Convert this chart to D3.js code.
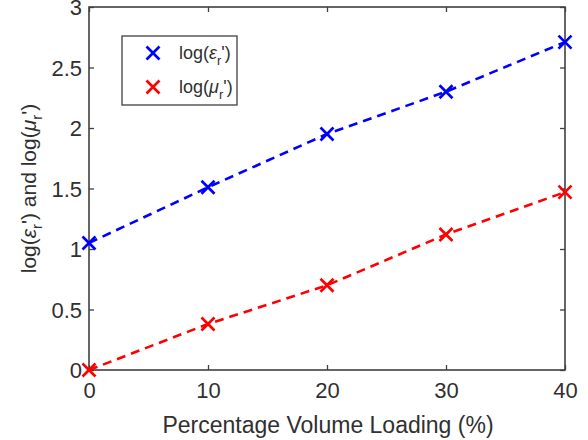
<!DOCTYPE html>
<html>
<head>
<meta charset="utf-8">
<script src="https://cdn.jsdelivr.net/npm/d3@7"></script>
<style>
  html, body { margin: 0; padding: 0; background: #fff; }
  svg { display: block; font-family: "Liberation Sans", Arial, Helvetica, sans-serif; }
</style>
</head>
<body>
<svg id="chart" width="588" height="440"></svg>
<script>
// Volume loading (%) and measured log values
const loading = [0, 10, 20, 30, 40];
const logEps = [1.05, 1.51, 1.95, 2.30, 2.71];
const logMu = [0.00, 0.38, 0.70, 1.12, 1.47];

const xTicks = [0, 10, 20, 30, 40];
const yTicks = [0, 0.5, 1, 1.5, 2, 2.5, 3];

const series = [
  { name: "eps", values: logEps, color: "#0000ff", greek: "\u03B5" },
  { name: "mu", values: logMu, color: "#ff0000", greek: "\u03BC" }
];

const svg = d3.select("#chart");
const box = { left: 89, right: 565, top: 7, bottom: 370 };

const x = d3.scaleLinear().domain([0, 40]).range([box.left, box.right]);
const y = d3.scaleLinear().domain([0, 3]).range([box.bottom, box.top]);

const axisColor = "#404040";
const textColor = "#303030";
const tickLen = 5;

// Axes with inward ticks
const gx = svg.append("g").attr("transform", `translate(0,${box.bottom})`)
  .call(d3.axisBottom(x).tickValues(xTicks).tickSizeInner(-tickLen).tickSizeOuter(0).tickPadding(12).tickFormat(d3.format("d")));
const gy = svg.append("g").attr("transform", `translate(${box.left},0)`)
  .call(d3.axisLeft(y).tickValues(yTicks).tickSizeInner(-tickLen).tickSizeOuter(0).tickPadding(7).tickFormat(d => d3.format("")(d)));
const gxTop = svg.append("g").attr("transform", `translate(0,${box.top})`)
  .call(d3.axisTop(x).tickValues(xTicks).tickSizeInner(-tickLen).tickSizeOuter(0).tickFormat(""));
const gyRight = svg.append("g").attr("transform", `translate(${box.right},0)`)
  .call(d3.axisRight(y).tickValues(yTicks).tickSizeInner(-tickLen).tickSizeOuter(0).tickFormat(""));

[gx, gy, gxTop, gyRight].forEach(g => {
  g.select(".domain").remove();
  g.selectAll(".tick line").attr("stroke", axisColor).attr("stroke-width", 1.3);
  g.selectAll(".tick text").attr("fill", textColor).attr("font-size", 22)
    .attr("font-family", "'Liberation Sans', Arial, sans-serif");
});
gy.selectAll(".tick text").attr("dy", "0.36em");

// Axes frame
svg.append("rect")
  .attr("x", box.left).attr("y", box.top)
  .attr("width", box.right - box.left).attr("height", box.bottom - box.top)
  .attr("fill", "none").attr("stroke", axisColor).attr("stroke-width", 1.6);

// Dashed series lines and x markers
const line = d3.line().x((d, i) => x(loading[i])).y(d => y(d));
const xMark = (g, cx, cy, color) => {
  const s = 6.5;
  g.append("path")
    .attr("d", `M${cx - s},${cy - s}L${cx + s},${cy + s}M${cx - s},${cy + s}L${cx + s},${cy - s}`)
    .attr("stroke", color).attr("stroke-width", 2.7).attr("fill", "none");
};

series.forEach(s => {
  svg.append("path").datum(s.values)
    .attr("d", line)
    .attr("fill", "none").attr("stroke", s.color)
    .attr("stroke-width", 2.6).attr("stroke-dasharray", "9,6");
  const g = svg.append("g");
  s.values.forEach((v, i) => xMark(g, x(loading[i]), y(v), s.color));
});

// Legend
const leg = svg.append("g");
leg.append("rect").attr("x", 122).attr("y", 36).attr("width", 115).attr("height", 69)
  .attr("fill", "#fff").attr("stroke", axisColor).attr("stroke-width", 1.3);
series.forEach((s, i) => {
  const cy = 53 + i * 34;
  xMark(leg, 153, cy, s.color);
  const t = leg.append("text").attr("x", 179).attr("y", cy + 6)
    .attr("font-size", 18).attr("fill", textColor);
  t.append("tspan").text("log(");
  t.append("tspan").attr("font-style", "italic").text(s.greek);
  t.append("tspan").attr("font-size", 13).attr("dy", 6).text("r");
  t.append("tspan").attr("dy", -6).text("')");
});

// Axis titles
svg.append("text")
  .attr("x", 328).attr("y", 433)
  .attr("text-anchor", "middle").attr("font-size", 23).attr("fill", textColor)
  .text("Percentage Volume Loading (%)");

const yl = svg.append("text")
  .attr("transform", `translate(36,${(box.top + box.bottom) / 2}) rotate(-90)`)
  .attr("text-anchor", "middle").attr("font-size", 21).attr("fill", textColor);
yl.append("tspan").text("log(");
yl.append("tspan").attr("font-style", "italic").text("\u03B5");
yl.append("tspan").attr("font-size", 15).attr("dy", 6).text("r");
yl.append("tspan").attr("dy", -6).text("') and log(");
yl.append("tspan").attr("font-style", "italic").text("\u03BC");
yl.append("tspan").attr("font-size", 15).attr("dy", 6).text("r");
yl.append("tspan").attr("dy", -6).text("')");
</script>
</body>
</html>
